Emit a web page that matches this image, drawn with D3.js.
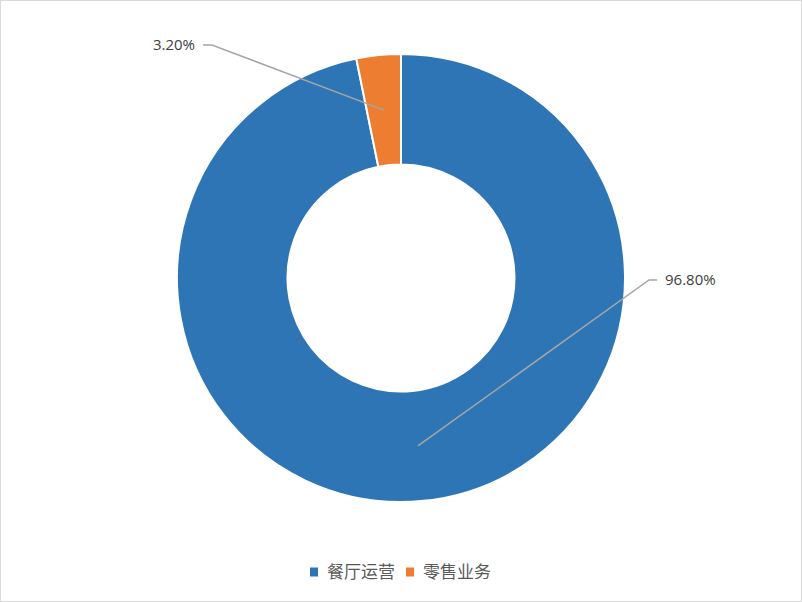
<!DOCTYPE html>
<html>
<head>
<meta charset="utf-8">
<script src="https://cdn.jsdelivr.net/npm/d3@7"></script>
<style>
  body { margin: 0; background: #fff; }
  svg text { font-family: "Open Sans", "Noto Sans CJK SC", sans-serif; }
</style>
</head>
<body>
<div id="chart"></div>
<script>
var categories = ["餐厅运营", "零售业务"];
var shares = [96.8, 3.2];
var labels = ["96.80%", "3.20%"];
var colors = ["#2E75B6", "#ED7D31"];

var width = 802, height = 602;
var cx = 401, cy = 278,
    outerR = 224, innerR = 113.5;

// where each data label's elbow sits, relative to the centre
var labelElbow = [[248, 2], [-189, -233]];

var svg = d3.select("#chart")
  .append("svg")
    .attr("width", width)
    .attr("height", height);

svg.append("rect")
  .attr("x", 0.5).attr("y", 0.5)
  .attr("width", width - 1).attr("height", height - 1)
  .attr("fill", "#fff")
  .attr("stroke", "#d9d9d9");

var g = svg.append("g")
  .attr("transform", "translate(" + cx + "," + cy + ")");

var pie = d3.pie().sort(null).value(function(d) { return d; });
var arcs = pie(shares);

var arc = d3.arc().innerRadius(innerR).outerRadius(outerR);
var midArc = d3.arc().innerRadius((innerR + outerR) / 2).outerRadius((innerR + outerR) / 2);

g.selectAll("path.slice")
  .data(arcs)
  .enter().append("path")
    .attr("class", "slice")
    .attr("d", arc)
    .attr("fill", function(d, i) { return colors[i]; })
    .attr("stroke", "#fff")
    .attr("stroke-width", 2);

// leader lines + labels
arcs.forEach(function(d, i) {
  var c = midArc.centroid(d);
  var e = labelElbow[i];
  var right = e[0] > 0;
  var end = [e[0] + (right ? 8 : -9), e[1]];
  g.append("polyline")
    .attr("points", [c, e, end].map(function(p) { return p.join(","); }).join(" "))
    .attr("fill", "none")
    .attr("stroke", "#a6a6a6")
    .attr("stroke-width", 1.5);
  g.append("text")
    .attr("x", end[0] + (right ? 8 : -8))
    .attr("y", end[1])
    .attr("dy", "0.35em")
    .attr("text-anchor", right ? "start" : "end")
    .attr("fill", "#404040")
    .attr("font-size", 15)
    .text(labels[i]);
});

// legend
var legend = svg.append("g").attr("transform", "translate(310,572)");
var xoff = 0;
categories.forEach(function(c, i) {
  var item = legend.append("g").attr("transform", "translate(" + xoff + ",0)");
  item.append("rect")
    .attr("x", 0).attr("y", -4.5)
    .attr("width", 8).attr("height", 9)
    .attr("fill", colors[i]);
  item.append("text")
    .attr("x", 17).attr("y", 0)
    .attr("dy", "0.35em")
    .attr("fill", "#595959")
    .attr("font-size", 17)
    .style("font-family", "'Noto Sans CJK SC', sans-serif")
    .text(c);
  xoff += 96;
});
</script>
</body>
</html>
